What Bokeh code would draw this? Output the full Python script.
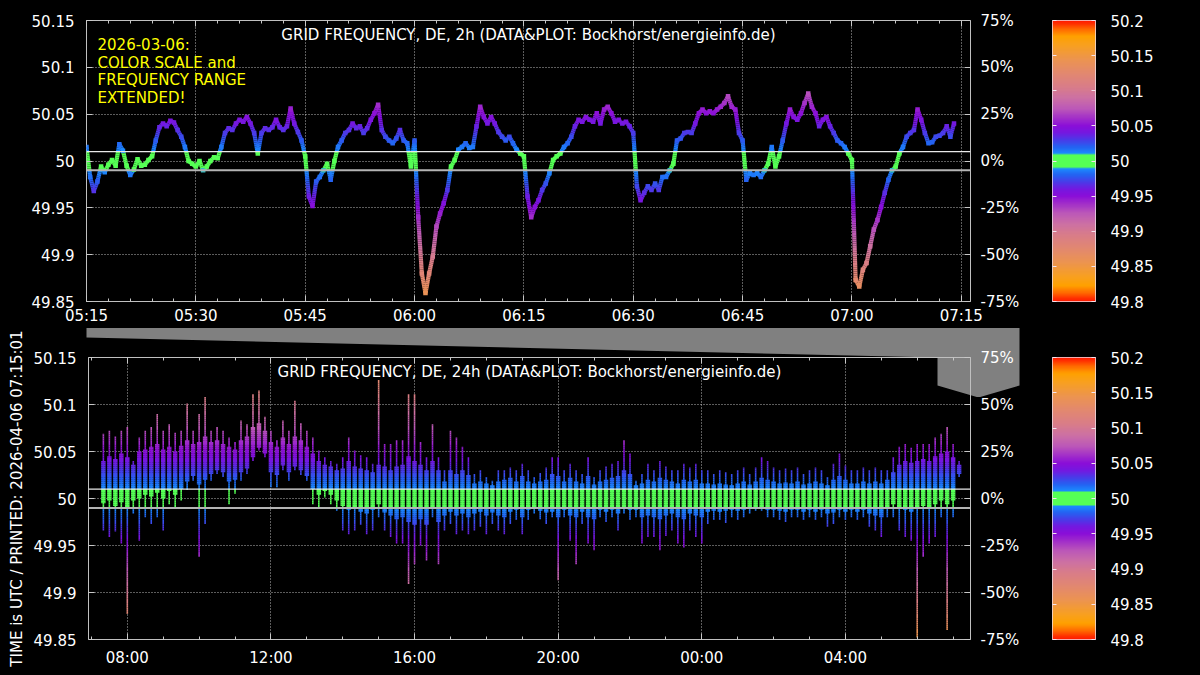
import numpy as np
import pandas as pd
from bokeh.plotting import figure
from bokeh.layouts import column, row
from bokeh.models import (Range1d, LinearAxis, DatetimeAxis, FixedTicker, DatetimeTickFormatter,
                          NumeralTickFormatter, PrintfTickFormatter, CustomJSTickFormatter, Span,
                          Label, Title, LinearColorMapper, ColumnDataSource)
from bokeh.transform import transform
from bokeh.embed import file_html
from bokeh.resources import INLINE

# ---------------- data ----------------
TOP_START = "2026-04-06 05:15:00"
TOP_STEP_S = 30
top_freq = [
    50.015, 49.983, 49.968, 49.978, 49.994, 49.988, 49.996, 50.001, 49.995, 50.018,
    50.011, 49.995, 49.985, 49.991, 50.002, 49.995, 49.996, 50.001, 50.005, 50.022,
    50.036, 50.040, 50.037, 50.043, 50.041, 50.033, 50.026, 50.015, 50.000, 49.997,
    49.994, 50.000, 49.990, 49.994, 50.000, 50.004, 50.003, 50.015, 50.030, 50.035,
    50.033, 50.040, 50.044, 50.042, 50.047, 50.040, 50.030, 50.008, 50.030, 50.035,
    50.033, 50.036, 50.044, 50.036, 50.033, 50.037, 50.056, 50.040, 50.031, 50.022,
    50.005, 49.962, 49.952, 49.978, 49.983, 49.990, 49.997, 49.980, 50.000, 50.015,
    50.022, 50.030, 50.033, 50.040, 50.035, 50.037, 50.030, 50.035, 50.044, 50.051,
    50.060, 50.033, 50.026, 50.022, 50.019, 50.024, 50.033, 50.022, 50.019, 49.994,
    50.022, 49.940, 49.880, 49.859, 49.880, 49.898, 49.930, 49.944, 49.955, 49.969,
    49.994, 50.001, 50.012, 50.015, 50.019, 50.014, 50.015, 50.037, 50.058, 50.047,
    50.040, 50.047, 50.040, 50.031, 50.026, 50.022, 50.026, 50.019, 50.012, 50.008,
    50.005, 49.962, 49.940, 49.951, 49.958, 49.969, 49.976, 49.987, 50.001, 50.005,
    50.008, 50.015, 50.019, 50.026, 50.037, 50.044, 50.042, 50.047, 50.044, 50.042,
    50.051, 50.040, 50.055, 50.058, 50.051, 50.042, 50.044, 50.040, 50.042, 50.037,
    50.030, 49.973, 49.958, 49.966, 49.973, 49.969, 49.976, 49.969, 49.983, 49.983,
    49.990, 49.997, 50.022, 50.024, 50.030, 50.031, 50.030, 50.040, 50.051, 50.055,
    50.051, 50.053, 50.051, 50.055, 50.058, 50.062, 50.069, 50.058, 50.055, 50.030,
    50.022, 49.980, 49.987, 49.985, 49.987, 49.983, 49.990, 49.997, 50.015, 49.994,
    50.005, 50.022, 50.040, 50.055, 50.047, 50.044, 50.051, 50.062, 50.072, 50.058,
    50.051, 50.037, 50.044, 50.047, 50.037, 50.030, 50.022, 50.019, 50.015, 50.008,
    50.001, 49.873, 49.866, 49.884, 49.891, 49.909, 49.927, 49.937, 49.951, 49.966,
    49.980, 49.990, 49.994, 50.008, 50.015, 50.026, 50.030, 50.033, 50.055, 50.044,
    50.030, 50.019, 50.020, 50.026, 50.027, 50.030, 50.037, 50.026, 50.040,
]

BOT_FIRST_BIN = "2026-04-05 07:20:00"
BOT_STEP_MIN = 10
# extremes (spikes) per 10-minute bin
bot_hi = [
    50.069, 50.072, 50.066, 50.072, 50.076, 50.040, 50.065, 50.072, 50.076, 50.090,
    50.072, 50.079, 50.070, 50.072, 50.101, 50.072, 50.090, 50.108, 50.072, 50.076,
    50.072, 50.065, 50.060, 50.083, 50.079, 50.111, 50.115, 50.087, 50.072, 50.062,
    50.083, 50.072, 50.104, 50.080, 50.072, 50.065, 50.051, 50.044, 50.040, 50.037,
    50.044, 50.065, 50.051, 50.046, 50.044, 50.037, 50.126, 50.058, 50.058, 50.062,
    50.062, 50.111, 50.111, 50.060, 50.044, 50.079, 50.044, 50.030, 50.072, 50.065,
    50.055, 50.044, 50.026, 50.030, 50.023, 50.019, 50.030, 50.030, 50.033, 50.030,
    50.037, 50.030, 50.023, 50.027, 50.033, 50.044, 50.044, 50.030, 50.037, 50.030,
    50.026, 50.044, 50.023, 50.030, 50.034, 50.037, 50.040, 50.062, 50.048, 50.019,
    50.026, 50.037, 50.030, 50.040, 50.034, 50.030, 50.030, 50.037, 50.033, 50.037,
    50.030, 50.030, 50.026, 50.030, 50.028, 50.026, 50.030, 50.033, 50.026, 50.033,
    50.044, 50.040, 50.033, 50.030, 50.032, 50.030, 50.033, 50.026, 50.030, 50.033,
    50.030, 50.023, 50.037, 50.048, 50.035, 50.030, 50.030, 50.033, 50.030, 50.033,
    50.030, 50.030, 50.044, 50.055, 50.058, 50.054, 50.058, 50.058, 50.058, 50.065,
    50.069, 50.076, 50.058, 50.040,
]
bot_lo = [
    49.966, 49.959, 49.965, 49.952, 49.877, 49.984, 49.955, 49.980, 49.973, 49.980,
    49.966, 49.994, 49.990, 49.998, 50.009, 50.019, 49.938, 49.973, 50.019, 50.026,
    50.023, 49.994, 50.005, 50.019, 50.026, 50.040, 50.051, 50.044, 50.012, 50.012,
    50.030, 50.019, 50.030, 50.025, 50.019, 49.994, 49.991, 50.001, 49.994, 49.987,
    49.966, 49.962, 49.966, 49.972, 49.962, 49.966, 49.980, 49.966, 49.959, 49.952,
    49.952, 49.909, 49.930, 49.950, 49.934, 49.980, 49.930, 49.966, 49.973, 49.962,
    49.966, 49.962, 49.966, 49.970, 49.962, 49.973, 49.966, 49.962, 49.973, 49.977,
    49.962, 49.977, 49.984, 49.978, 49.973, 49.980, 49.913, 49.980, 49.955, 49.930,
    49.973, 49.952, 49.945, 49.980, 49.975, 49.980, 49.966, 49.984, 49.977, 49.980,
    49.952, 49.959, 49.959, 49.945, 49.960, 49.966, 49.952, 49.948, 49.966, 49.959,
    49.952, 49.973, 49.977, 49.977, 49.974, 49.980, 49.977, 49.980, 49.984, 49.987,
    49.987, 49.980, 49.980, 49.977, 49.975, 49.980, 49.980, 49.977, 49.980, 49.977,
    49.980, 49.970, 49.973, 49.980, 49.977, 49.980, 49.977, 49.980, 49.970, 49.966,
    49.959, 49.980, 49.980, 49.966, 49.959, 49.955, 49.852, 49.938, 49.952, 49.959,
    49.980, 49.860, 49.980, 50.023,
]
# dense core of the trace per 10-minute bin
bot_core_hi = [
    50.040, 50.045, 50.042, 50.048, 50.044, 50.036, 50.050, 50.052, 50.055, 50.058,
    50.052, 50.055, 50.050, 50.056, 50.062, 50.058, 50.060, 50.066, 50.060, 50.062,
    50.058, 50.055, 50.052, 50.062, 50.066, 50.076, 50.080, 50.072, 50.060, 50.055,
    50.065, 50.058, 50.066, 50.062, 50.055, 50.048, 50.040, 50.036, 50.034, 50.030,
    50.032, 50.040, 50.034, 50.032, 50.030, 50.028, 50.036, 50.034, 50.030, 50.034,
    50.036, 50.045, 50.040, 50.036, 50.030, 50.040, 50.030, 50.018, 50.030, 50.026,
    50.030, 50.025, 50.016, 50.018, 50.016, 50.014, 50.018, 50.020, 50.022, 50.018,
    50.024, 50.018, 50.016, 50.018, 50.020, 50.026, 50.024, 50.018, 50.022, 50.018,
    50.016, 50.024, 50.015, 50.018, 50.020, 50.022, 50.024, 50.030, 50.026, 50.014,
    50.016, 50.020, 50.018, 50.022, 50.020, 50.018, 50.016, 50.020, 50.018, 50.020,
    50.016, 50.016, 50.015, 50.016, 50.015, 50.014, 50.016, 50.018, 50.015, 50.018,
    50.022, 50.020, 50.018, 50.016, 50.017, 50.016, 50.018, 50.015, 50.016, 50.018,
    50.016, 50.014, 50.020, 50.024, 50.020, 50.016, 50.016, 50.018, 50.016, 50.018,
    50.016, 50.020, 50.028, 50.036, 50.040, 50.038, 50.040, 50.042, 50.040, 50.045,
    50.048, 50.050, 50.044, 50.036,
]
bot_core_lo = [
    49.995, 49.998, 49.992, 49.996, 49.990, 49.998, 50.000, 50.004, 50.002, 50.006,
    50.000, 50.008, 50.004, 50.010, 50.018, 50.024, 50.015, 50.020, 50.026, 50.030,
    50.028, 50.018, 50.020, 50.028, 50.032, 50.044, 50.054, 50.048, 50.028, 50.025,
    50.035, 50.028, 50.034, 50.030, 50.024, 50.010, 50.004, 50.008, 50.004, 49.998,
    49.992, 49.988, 49.990, 49.986, 49.984, 49.988, 49.994, 49.985, 49.982, 49.978,
    49.980, 49.975, 49.972, 49.978, 49.972, 49.990, 49.975, 49.982, 49.986, 49.982,
    49.984, 49.980, 49.984, 49.986, 49.982, 49.985, 49.982, 49.980, 49.986, 49.988,
    49.980, 49.988, 49.990, 49.987, 49.985, 49.986, 49.980, 49.988, 49.982, 49.980,
    49.986, 49.980, 49.978, 49.988, 49.986, 49.988, 49.984, 49.990, 49.988, 49.988,
    49.980, 49.982, 49.980, 49.978, 49.982, 49.984, 49.980, 49.978, 49.984, 49.982,
    49.980, 49.986, 49.987, 49.986, 49.987, 49.988, 49.987, 49.988, 49.989, 49.990,
    49.990, 49.988, 49.988, 49.987, 49.986, 49.988, 49.988, 49.986, 49.988, 49.986,
    49.988, 49.984, 49.985, 49.988, 49.986, 49.988, 49.986, 49.988, 49.984, 49.982,
    49.980, 49.990, 49.994, 49.990, 49.988, 49.986, 49.990, 49.992, 49.990, 49.994,
    49.998, 49.994, 49.998, 50.026,
]

FREQ_TICKS = [49.85, 49.9, 49.95, 50.0, 50.05, 50.1, 50.15]
PCT_TICKS = [-0.75, -0.5, -0.25, 0.0, 0.25, 0.5, 0.75]
CB_TICKS = [49.8, 49.85, 49.9, 49.95, 50.0, 50.05, 50.1, 50.15, 50.2]
BAND_LINES = [50.01, 49.99]

TOP_TITLE = "GRID FREQUENCY, DE, 2h (DATA&PLOT: Bockhorst/energieinfo.de)"
BOT_TITLE = "GRID FREQUENCY, DE, 24h (DATA&PLOT: Bockhorst/energieinfo.de)"
NOTE_LINES = ["2026-03-06:", "COLOR SCALE and", "FREQUENCY RANGE", "EXTENDED!"]
SIDE_TEXT = "TIME is UTC / PRINTED: 2026-04-06 07:15:01"

# colour scale stops (distance from 50 Hz, colour)
STOPS = [
    (0.0, "#55ff55"), (0.0092, "#55ff55"), (0.0105, "#1a8cff"), (0.02, "#2462f2"),
    (0.03, "#4a3ae8"), (0.04, "#7418e0"), (0.05, "#8a0ed8"), (0.06, "#a02cca"),
    (0.075, "#bc58b8"), (0.09, "#cc70a4"), (0.105, "#d87c8a"), (0.125, "#e28870"),
    (0.145, "#ec9450"), (0.165, "#f8a020"), (0.178, "#ffa000"), (0.188, "#ff6a00"),
    (0.196, "#ff3000"), (0.2, "#ff1800"),
]

# ---------------- helpers ----------------
MIN = 60000.0
HOUR = 3600000.0
FONT = "DejaVu Sans"
BLACK = {"background-color": "black"}
EMPTY = CustomJSTickFormatter(code="return '';")
MAIN_W, STRIP_H = 1030, 70


def ms(ts):
    return pd.Timestamp(ts).value / 1e6


def build_palette(n=401):
    offs = np.array([s[0] for s in STOPS])
    rgb = np.array([[int(c[i:i + 2], 16) for i in (1, 3, 5)] for _, c in STOPS], float)
    d = np.abs(np.linspace(49.8, 50.2, n) - 50.0)
    pal = []
    for v in d:
        r, g, b = (np.interp(v, offs, rgb[:, k]) for k in range(3))
        pal.append("#%02x%02x%02x" % (int(round(r)), int(round(g)), int(round(b))))
    return pal


mapper = LinearColorMapper(palette=build_palette(), low=49.8, high=50.2)
EDGES = np.round(np.arange(49.8, 50.2 + 1e-9, 0.002), 4)


def line_pieces(t, f):
    X0, X1, Y0, Y1, M = [], [], [], [], []
    for i in range(len(t) - 1):
        t0, t1, f0, f1 = t[i], t[i + 1], f[i], f[i + 1]
        lo, hi = min(f0, f1), max(f0, f1)
        inner = sorted(EDGES[(EDGES > lo) & (EDGES < hi)], reverse=(f1 < f0))
        cuts = [f0] + list(inner) + [f1]
        for c0, c1 in zip(cuts[:-1], cuts[1:]):
            if f1 != f0:
                x0 = t0 + (c0 - f0) / (f1 - f0) * (t1 - t0)
                x1 = t0 + (c1 - f0) / (f1 - f0) * (t1 - t0)
            else:
                x0, x1 = t0, t1
            X0.append(x0); X1.append(x1); Y0.append(c0); Y1.append(c1); M.append((c0 + c1) / 2)
    return dict(x0=X0, x1=X1, y0=Y0, y1=Y1, m=M)


def bar_pieces(t, lo, hi):
    X, Y0, Y1, M = [], [], [], []
    for ti, a, b in zip(t, lo, hi):
        inner = EDGES[(EDGES > a) & (EDGES < b)]
        cuts = [a] + list(inner) + [b]
        for c0, c1 in zip(cuts[:-1], cuts[1:]):
            X.append(ti); Y0.append(c0); Y1.append(c1); M.append((c0 + c1) / 2)
    return dict(x0=X, x1=X, y0=Y0, y1=Y1, m=M)


def style_axis(ax, size="15px", color="#c8c8c8"):
    ax.axis_line_color = None
    ax.major_tick_in = 6
    ax.major_tick_out = 0
    ax.minor_tick_in = 3
    ax.minor_tick_out = 0
    ax.major_tick_line_color = color
    ax.minor_tick_line_color = color
    ax.major_label_text_color = "white"
    ax.major_label_text_font = FONT
    ax.major_label_text_font_size = size


TFMT = dict(microseconds="%H:%M", milliseconds="%H:%M", seconds="%H:%M", minsec="%H:%M",
            minutes="%H:%M", hourmin="%H:%M", hours="%H:%M", days="%H:%M",
            months="%H:%M", years="%H:%M")


def make_main(height, top_b, bot_b, xr, major, minor, title, label_standoff, transparent=False):
    p = figure(width=MAIN_W, height=height, x_axis_type="datetime", x_range=xr,
               y_range=Range1d(49.85, 50.15), output_backend="svg", toolbar_location=None,
               min_border_left=86, min_border_right=60, min_border_top=top_b,
               min_border_bottom=bot_b, background_fill_color="black",
               border_fill_color="black", outline_line_color="#c0c0c0")
    if transparent:
        p.background_fill_alpha = 0
        p.border_fill_alpha = 0
    p.extra_y_ranges = {"pct": Range1d(-0.75, 0.75)}
    ticker = FixedTicker(ticks=major, minor_ticks=minor)
    fmt = DatetimeTickFormatter(**TFMT)
    xa = p.xaxis[0]
    xa.ticker = ticker
    xa.formatter = fmt
    style_axis(xa)
    xa.major_label_standoff = label_standoff
    top_ax = DatetimeAxis(ticker=ticker, formatter=EMPTY)
    style_axis(top_ax)
    top_ax.major_label_standoff = 0
    p.add_layout(top_ax, "above")

    ya = p.yaxis[0]
    ya.ticker = FixedTicker(ticks=FREQ_TICKS)
    ya.formatter = PrintfTickFormatter(format="%g")
    style_axis(ya)
    ya.major_label_standoff = 12
    ra = LinearAxis(y_range_name="pct", ticker=FixedTicker(ticks=PCT_TICKS),
                    formatter=NumeralTickFormatter(format="0%"))
    style_axis(ra)
    ra.major_label_standoff = 10
    p.add_layout(ra, "right")

    p.xgrid.ticker = ticker
    p.ygrid.ticker = FixedTicker(ticks=FREQ_TICKS)
    for g in (p.xgrid, p.ygrid):
        g.grid_line_color = "#d8d8d8"
        g.grid_line_dash = "1 2"
        g.grid_line_alpha = 0.85
    p.add_layout(Span(location=BAND_LINES[0], dimension="width", line_color="#e8e8e8", line_width=1.3))
    p.add_layout(Span(location=BAND_LINES[1], dimension="width", line_color="#b4b4b4", line_width=2))

    xmid = (xr.start + xr.end) / 2
    p.add_layout(Label(x=xmid, y=50.15, y_offset=-14.5, text=title, text_align="center",
                       text_baseline="alphabetic", text_color="white", text_font=FONT,
                       text_font_size="15px"))
    return p


def make_cbar(height, top_b, bot_b):
    c = figure(width=170, height=height, x_range=Range1d(0, 1), y_range=Range1d(49.8, 50.2),
               output_backend="svg", toolbar_location=None, min_border_left=22,
               min_border_right=105, min_border_top=top_b, min_border_bottom=bot_b,
               background_fill_color="black", border_fill_color="black",
               outline_line_color="#f0e0ea", x_axis_location=None, y_axis_location=None)
    c.grid.visible = False
    grad = np.linspace(49.8, 50.2, 800).reshape(-1, 1)
    c.image(image=[grad], x=0, y=49.8, dw=1, dh=0.4, color_mapper=mapper)
    ra = LinearAxis(ticker=FixedTicker(ticks=CB_TICKS), formatter=PrintfTickFormatter(format="%g"))
    style_axis(ra, color="#f4e4ee")
    ra.major_tick_in = 4
    ra.major_label_standoff = 15
    c.add_layout(ra, "right")
    la = LinearAxis(ticker=FixedTicker(ticks=CB_TICKS), formatter=EMPTY)
    style_axis(la, color="#f4e4ee")
    la.major_tick_in = 4
    la.major_label_standoff = 0
    c.add_layout(la, "left")
    return c


# ---------------- top panel (2h) ----------------
t0_top = ms(TOP_START)
t_top = t0_top + np.arange(len(top_freq)) * TOP_STEP_S * 1000.0
top_major = [t0_top + k * 15 * MIN for k in range(9)]
top_minor = [t0_top + k * 3 * MIN for k in range(41)]
p_top = make_main(327, 20, 25, Range1d(t0_top, t0_top + 121.26 * MIN), top_major, top_minor,
                  TOP_TITLE, 5)
src_line = ColumnDataSource(line_pieces(list(t_top), list(top_freq)))
p_top.segment("x0", "y0", "x1", "y1", source=src_line, line_width=4.2,
              line_color=transform("m", mapper))
src_pts = ColumnDataSource(dict(t=t_top, f=top_freq))
p_top.scatter("t", "f", source=src_pts, marker="square", size=4.5, line_color=None,
              fill_color=transform("f", mapper))
for k, txt in enumerate(NOTE_LINES):
    p_top.add_layout(Label(x=t0_top, x_offset=11, y=50.15, y_offset=-(24.5 + 17.5 * k), text=txt,
                           text_baseline="alphabetic", text_color="#ffff00", text_font=FONT,
                           text_font_size="15px"))
cb_top = make_cbar(327, 20, 25)

# ---------------- zoom indicator strip (drawn underneath the lower panel) ----------------
strip = figure(width=MAIN_W, height=STRIP_H, x_range=Range1d(0, MAIN_W),
               y_range=Range1d(STRIP_H, 0), output_backend="svg", toolbar_location=None,
               min_border_left=0, min_border_right=0, min_border_top=0, min_border_bottom=0,
               background_fill_color="black", border_fill_color="black", outline_line_color=None,
               x_axis_location=None, y_axis_location=None,
               margin=(0, 0, -STRIP_H, 0))
strip.grid.visible = False
FL, AR = 86, 1019
strip.patch(x=[FL, AR, AR, 978, 937, 937, FL], y=[0.5, 0.5, 58, 70, 58, 30, 10],
            fill_color="#808080", line_color=None)

# ---------------- bottom panel (24h) ----------------
t_first = ms(BOT_FIRST_BIN)
t_bot = list(t_first + np.arange(len(bot_hi)) * BOT_STEP_MIN * MIN)
d8 = ms("2026-04-05 08:00:00")
bot_major = [d8 + k * 4 * HOUR for k in range(6)]
bot_minor = [d8 + k * HOUR for k in range(-1, 24)]
bot_range = Range1d(d8 - 1.081 * HOUR, d8 + 20 * HOUR + 3.484 * HOUR)
p_bot = make_main(348, 30, 36, bot_range, bot_major, bot_minor, BOT_TITLE, 9, transparent=True)
src_spk = ColumnDataSource(bar_pieces(t_bot, bot_lo, bot_hi))
p_bot.segment("x0", "y0", "x1", "y1", source=src_spk, line_width=1.6,
              line_color=transform("m", mapper))
src_core = ColumnDataSource(bar_pieces(t_bot, bot_core_lo, bot_core_hi))
p_bot.segment("x0", "y0", "x1", "y1", source=src_core, line_width=4.5,
              line_color=transform("m", mapper))
p_bot.add_layout(Title(text=SIDE_TEXT, align="center", text_color="white", text_font=FONT,
                       text_font_size="15px", text_font_style="normal"), "left")
cb_bot = make_cbar(348, 30, 36)

layout = column(row(p_top, cb_top), strip, row(p_bot, cb_bot), styles=BLACK)
open("out.html", "w").write(file_html(layout, INLINE))
